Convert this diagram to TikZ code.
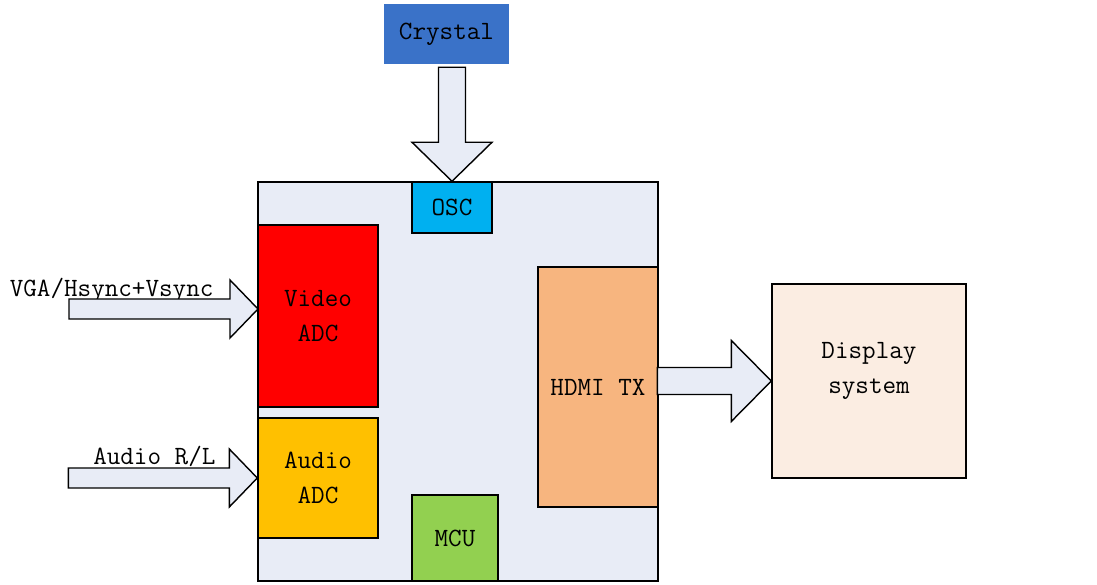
\documentclass[tikz,border=0pt]{standalone}
\usepackage{fontspec}
\usetikzlibrary{positioning}

\definecolor{boardfill}{HTML}{E8ECF6}
\definecolor{xtalblue}{HTML}{3A72C8}
\definecolor{oscblue}{HTML}{00B0F0}
\definecolor{adcred}{HTML}{FF0000}
\definecolor{adcgold}{HTML}{FFC000}
\definecolor{mcugreen}{HTML}{92D050}
\definecolor{txorange}{HTML}{F7B57F}
\definecolor{dispfill}{HTML}{FBEDE2}

\tikzset{
  block/.style={draw, inner sep=0pt, align=center},
  fatarrow/.style={draw, fill=boardfill, line join=miter}
}

\begin{document}
\begin{tikzpicture}[font=\fontsize{15}{20}\selectfont\ttfamily, line width=0.8pt]
\useasboundingbox (0,0) rectangle (21.94,11.70);

% ==== Main chip ====
\node[block, fill=boardfill, minimum width=8cm, minimum height=7.98cm] (board) at (9.16,4.07) {};

% Crystal on top
\node[block, fill=xtalblue, draw=xtalblue, minimum width=2.46cm, minimum height=1.16cm] (xtal) at (8.93,11.02) {Crystal};

% Blocks inside the chip
\node[block, fill=oscblue, minimum width=1.6cm, minimum height=1.02cm] (osc) at (9.04,7.55) {OSC};
\node[block, fill=adcred, minimum width=2.4cm, minimum height=3.64cm] (vadc) at (6.36,5.38) {Video\\ADC};
\node[block, fill=adcgold, minimum width=2.4cm, minimum height=2.4cm] (aadc) at (6.36,2.14) {Audio\\ADC};
\node[block, fill=mcugreen, minimum width=1.72cm, minimum height=1.72cm] (mcu) at (9.10,0.94) {MCU};
\node[block, fill=txorange, minimum width=2.4cm, minimum height=4.8cm] (hdmi) at (11.96,3.96) {HDMI TX};

% ==== Display side ====
\node[block, fill=dispfill, minimum width=3.88cm, minimum height=3.88cm,
      label={[align=center, yshift=0.2cm]center:{Display\\system}}] (disp) at (17.38,4.08) {};

% ==== Inputs ====
\node[anchor=base east] (vgalabel) at (4.40,5.76) {VGA/Hsync+Vsync};
\node[anchor=base east] (audiolabel) at (4.44,2.40) {Audio R/L};

\coordinate (vgatip) at (5.16,5.52);

% Crystal -> OSC
\draw[fatarrow] (osc.north) -- ++(-0.80,0.78) -- ++(0.53,0) -- ++(0,1.50)
  -- ++(0.54,0) -- ++(0,-1.50) -- ++(0.53,0) -- cycle;

% VGA -> Video ADC
\draw[fatarrow] (vgatip) -- ++(-0.56,0.58) -- ++(0,-0.38) -- ++(-3.22,0)
  -- ++(0,-0.40) -- ++(3.22,0) -- ++(0,-0.38) -- cycle;

% Audio -> Audio ADC
\draw[fatarrow] (aadc.west) -- ++(-0.56,0.58) -- ++(0,-0.38) -- ++(-3.22,0)
  -- ++(0,-0.40) -- ++(3.22,0) -- ++(0,-0.38) -- cycle;

% HDMI TX -> Display
\draw[fatarrow] (disp.west) -- ++(-0.80,0.81) -- ++(0,-0.54) -- ++(-1.48,0)
  -- ++(0,-0.54) -- ++(1.48,0) -- ++(0,-0.54) -- cycle;

\end{tikzpicture}
\end{document}
